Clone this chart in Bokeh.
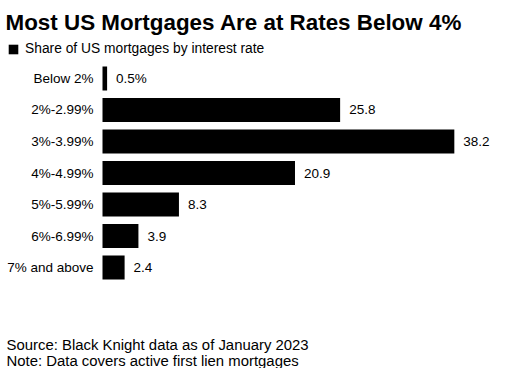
from bokeh.plotting import figure
from bokeh.models import ColumnDataSource, Range1d, Label, LabelSet, Legend, LegendItem
from bokeh.core.properties import value
from bokeh.embed import file_html
from bokeh.resources import INLINE

title_text = "Most US Mortgages Are at Rates Below 4%"
series_name = "Share of US mortgages by interest rate"
categories = ["Below 2%", "2%-2.99%", "3%-3.99%", "4%-4.99%", "5%-5.99%", "6%-6.99%", "7% and above"]
values = [0.5, 25.8, 38.2, 20.9, 8.3, 3.9, 2.4]
source_note = "Source: Black Knight data as of January 2023"
data_note = "Note: Data covers active first lien mortgages"

FONT = "Liberation Sans"

labels = [f"{v}%" if i == 0 else f"{v}" for i, v in enumerate(values)]
positions = list(range(len(categories)))
zeros = [0] * len(categories)
src = ColumnDataSource(dict(cat=categories, pos=positions, val=values, lab=labels, zero=zeros))

# frame spans the whole canvas; x in data units (percent), y in row index (top = 0)
p = figure(width=509, height=368, output_backend="svg", toolbar_location=None,
           x_range=Range1d(-11.075, 44.19),
           y_range=Range1d(9.206, -2.476),
           min_border=0)
p.outline_line_color = None
p.grid.visible = False
p.axis.visible = False
p.background_fill_color = "white"
p.border_fill_color = "white"

r = p.hbar(y="pos", right="val", left=0, height=0.76, source=src,
           fill_color="#000000", line_color=None)

val_labels = LabelSet(x="val", y="pos", text="lab", source=src, x_offset=9,
                      text_baseline="middle", text_align="left",
                      text_font=value(FONT), text_font_size="13.5px",
                      text_color="#000000")
p.add_layout(val_labels)

cat_labels = LabelSet(x="zero", y="pos", text="cat", source=src, x_offset=-9,
                      text_baseline="middle", text_align="right",
                      text_font=value(FONT), text_font_size="13.5px",
                      text_color="#000000")
p.add_layout(cat_labels)

legend = Legend(items=[LegendItem(label=series_name, renderers=[r])],
                location=(7, 312), orientation="horizontal",
                glyph_width=12, glyph_height=12, label_height=10,
                label_standoff=6, padding=0, margin=0, spacing=0,
                border_line_color=None, background_fill_alpha=0,
                label_text_font=FONT, label_text_font_size="13.8px",
                label_text_color="#000000")
p.add_layout(legend, "center")

p.add_layout(Label(x=5, y=346, x_units="screen", y_units="screen", text=title_text,
                   text_font=FONT, text_font_style="bold", text_font_size="22.4px",
                   text_color="#000000", text_baseline="alphabetic"))
p.add_layout(Label(x=6, y=23.7, x_units="screen", y_units="screen", text=source_note,
                   text_font=FONT, text_font_size="14.9px",
                   text_color="#000000", text_baseline="alphabetic"))
p.add_layout(Label(x=6, y=8, x_units="screen", y_units="screen", text=data_note,
                   text_font=FONT, text_font_size="14.9px",
                   text_color="#000000", text_baseline="alphabetic"))

open("out.html", "w").write(file_html(p, INLINE))
